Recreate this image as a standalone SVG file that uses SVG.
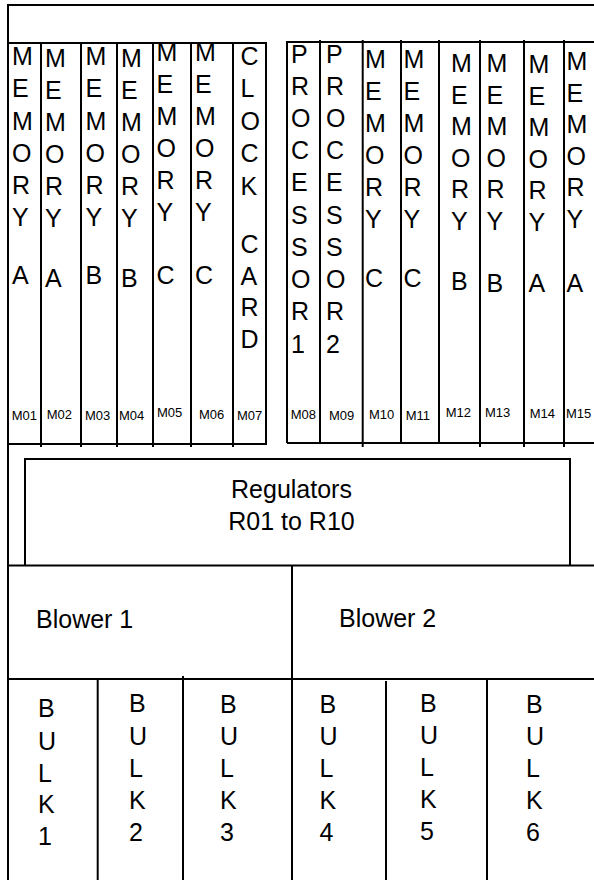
<svg xmlns="http://www.w3.org/2000/svg" width="594" height="880" viewBox="0 0 594 880">
<style>
  .ln { stroke: #000; stroke-width: 2; fill: none; }
  .big { font-family: "Liberation Sans", Arial, sans-serif; font-size: 25px; fill: #000; }
  .lbl { font-family: "Liberation Sans", Arial, sans-serif; font-size: 13px; fill: #000; }
  .mid { text-anchor: middle; }
</style>
<rect width="594" height="880" fill="#fff"/>
<g id="frame">
  <path class="ln" d="M8,880 V5 H594"/>
  <path class="ln" d="M8,43 H266 V444 H8"/>
  <path class="ln" d="M287,443 V42 H594 M287,443 H594"/>
  <path class="ln" d="M41,43 V447 M81,43 V447 M117,43 V447 M153,43 V447 M191,43 V447 M233,43 V447"/>
  <path class="ln" d="M320,40 V443 M362.7,40 V447 M401,40 V443 M439,40 V443 M480,40 V447 M524,40 V447 M564,40 V447"/>
  <path class="ln" d="M8,565.5 H594 M292,565.5 V679 M8,679 H594"/>
  <path class="ln" d="M97.7,679 V880 M183,676 V880 M292,679 V880 M386,681 V880 M487,679 V880"/>
</g>
<g id="connectors"></g>
<g id="M01"><text class="big"><tspan x="12" y="65">M</tspan><tspan x="12" y="97">E</tspan><tspan x="12" y="130">M</tspan><tspan x="12" y="162">O</tspan><tspan x="12" y="194">R</tspan><tspan x="12" y="226">Y</tspan><tspan x="12" y="284">A</tspan></text><text class="lbl" x="11.7" y="420">M01</text></g>
<g id="M02"><text class="big"><tspan x="45" y="67">M</tspan><tspan x="45" y="99">E</tspan><tspan x="45" y="131">M</tspan><tspan x="45" y="163">O</tspan><tspan x="45" y="195">R</tspan><tspan x="45" y="227">Y</tspan><tspan x="45" y="287">A</tspan></text><text class="lbl" x="46.7" y="419">M02</text></g>
<g id="M03"><text class="big"><tspan x="85.5" y="65">M</tspan><tspan x="85.5" y="97">E</tspan><tspan x="85.5" y="130">M</tspan><tspan x="85.5" y="162">O</tspan><tspan x="85.5" y="194">R</tspan><tspan x="85.5" y="226">Y</tspan><tspan x="85.5" y="284">B</tspan></text><text class="lbl" x="85" y="420">M03</text></g>
<g id="M04"><text class="big"><tspan x="121" y="67">M</tspan><tspan x="121" y="99">E</tspan><tspan x="121" y="131">M</tspan><tspan x="121" y="163">O</tspan><tspan x="121" y="195">R</tspan><tspan x="121" y="227">Y</tspan><tspan x="121" y="287">B</tspan></text><text class="lbl" x="119" y="420">M04</text></g>
<g id="M05"><text class="big"><tspan x="156.5" y="61">M</tspan><tspan x="156.5" y="93">E</tspan><tspan x="156.5" y="125">M</tspan><tspan x="156.5" y="157">O</tspan><tspan x="156.5" y="189">R</tspan><tspan x="156.5" y="221">Y</tspan><tspan x="156.5" y="284">C</tspan></text><text class="lbl" x="157" y="417">M05</text></g>
<g id="M06"><text class="big"><tspan x="195" y="61">M</tspan><tspan x="195" y="93">E</tspan><tspan x="195" y="125">M</tspan><tspan x="195" y="157">O</tspan><tspan x="195" y="189">R</tspan><tspan x="195" y="221">Y</tspan><tspan x="195" y="284">C</tspan></text><text class="lbl" x="199" y="419">M06</text></g>
<g id="M07"><text class="big"><tspan x="240.5" y="65">C</tspan><tspan x="240.5" y="97">L</tspan><tspan x="240.5" y="130">O</tspan><tspan x="240.5" y="162">C</tspan><tspan x="240.5" y="195">K</tspan><tspan x="240.5" y="253">C</tspan><tspan x="240.5" y="285">A</tspan><tspan x="240.5" y="316">R</tspan><tspan x="240.5" y="348">D</tspan></text><text class="lbl" x="237" y="419.5">M07</text></g>
<g id="M08"><text class="big"><tspan x="291" y="63">P</tspan><tspan x="291" y="95">R</tspan><tspan x="291" y="127">O</tspan><tspan x="291" y="159">C</tspan><tspan x="291" y="191">E</tspan><tspan x="291" y="224">S</tspan><tspan x="291" y="256">S</tspan><tspan x="291" y="288">O</tspan><tspan x="291" y="320">R</tspan><tspan x="291" y="353">1</tspan></text><text class="lbl" x="290.7" y="419">M08</text></g>
<g id="M09"><text class="big"><tspan x="326" y="63">P</tspan><tspan x="326" y="95">R</tspan><tspan x="326" y="127">O</tspan><tspan x="326" y="159">C</tspan><tspan x="326" y="191">E</tspan><tspan x="326" y="224">S</tspan><tspan x="326" y="256">S</tspan><tspan x="326" y="288">O</tspan><tspan x="326" y="320">R</tspan><tspan x="326" y="353">2</tspan></text><text class="lbl" x="329" y="420">M09</text></g>
<g id="M10"><text class="big"><tspan x="365" y="68">M</tspan><tspan x="365" y="100">E</tspan><tspan x="365" y="132">M</tspan><tspan x="365" y="164">O</tspan><tspan x="365" y="196">R</tspan><tspan x="365" y="228">Y</tspan><tspan x="365" y="287">C</tspan></text><text class="lbl" x="369" y="419">M10</text></g>
<g id="M11"><text class="big"><tspan x="403.5" y="68">M</tspan><tspan x="403.5" y="100">E</tspan><tspan x="403.5" y="132">M</tspan><tspan x="403.5" y="164">O</tspan><tspan x="403.5" y="196">R</tspan><tspan x="403.5" y="228">Y</tspan><tspan x="403.5" y="287">C</tspan></text><text class="lbl" x="405.7" y="420">M11</text></g>
<g id="M12"><text class="big"><tspan x="451" y="72">M</tspan><tspan x="451" y="103.5">E</tspan><tspan x="451" y="135">M</tspan><tspan x="451" y="166.5">O</tspan><tspan x="451" y="198">R</tspan><tspan x="451" y="229.5">Y</tspan><tspan x="451" y="290">B</tspan></text><text class="lbl" x="445.7" y="417">M12</text></g>
<g id="M13"><text class="big"><tspan x="486.5" y="72">M</tspan><tspan x="486.5" y="103.5">E</tspan><tspan x="486.5" y="135">M</tspan><tspan x="486.5" y="166.5">O</tspan><tspan x="486.5" y="198">R</tspan><tspan x="486.5" y="229.5">Y</tspan><tspan x="486.5" y="292">B</tspan></text><text class="lbl" x="485" y="417">M13</text></g>
<g id="M14"><text class="big"><tspan x="528.5" y="73">M</tspan><tspan x="528.5" y="104.5">E</tspan><tspan x="528.5" y="136">M</tspan><tspan x="528.5" y="167.5">O</tspan><tspan x="528.5" y="199">R</tspan><tspan x="528.5" y="230.5">Y</tspan><tspan x="528.5" y="292">A</tspan></text><text class="lbl" x="529.7" y="418">M14</text></g>
<g id="M15"><text class="big"><tspan x="566.5" y="70">M</tspan><tspan x="566.5" y="101.5">E</tspan><tspan x="566.5" y="133">M</tspan><tspan x="566.5" y="164.5">O</tspan><tspan x="566.5" y="196">R</tspan><tspan x="566.5" y="227.5">Y</tspan><tspan x="566.5" y="292">A</tspan></text><text class="lbl" x="566" y="418">M15</text></g>
<g id="regulators"><path class="ln" d="M25,565.5 V459 H570 V565.5"/><text class="big mid" x="291.5" y="498">Regulators</text><text class="big mid" x="291.5" y="530">R01 to R10</text></g>
<g id="blower1"><text class="big" x="36" y="628">Blower 1</text></g>
<g id="blower2"><text class="big" x="339" y="627">Blower 2</text></g>
<g id="bulk1"><text class="big"><tspan x="38" y="717">B</tspan><tspan x="38" y="750">U</tspan><tspan x="38" y="782">L</tspan><tspan x="38" y="813">K</tspan><tspan x="38" y="845">1</tspan></text></g>
<g id="bulk2"><text class="big"><tspan x="129" y="712">B</tspan><tspan x="129" y="745">U</tspan><tspan x="129" y="777">L</tspan><tspan x="129" y="809">K</tspan><tspan x="129" y="841">2</tspan></text></g>
<g id="bulk3"><text class="big"><tspan x="220" y="713">B</tspan><tspan x="220" y="745">U</tspan><tspan x="220" y="777">L</tspan><tspan x="220" y="809">K</tspan><tspan x="220" y="841">3</tspan></text></g>
<g id="bulk4"><text class="big"><tspan x="319.5" y="713">B</tspan><tspan x="319.5" y="745">U</tspan><tspan x="319.5" y="777">L</tspan><tspan x="319.5" y="809">K</tspan><tspan x="319.5" y="841">4</tspan></text></g>
<g id="bulk5"><text class="big"><tspan x="420" y="712">B</tspan><tspan x="420" y="744">U</tspan><tspan x="420" y="776">L</tspan><tspan x="420" y="808">K</tspan><tspan x="420" y="840">5</tspan></text></g>
<g id="bulk6"><text class="big"><tspan x="526" y="713">B</tspan><tspan x="526" y="745">U</tspan><tspan x="526" y="777">L</tspan><tspan x="526" y="809">K</tspan><tspan x="526" y="841">6</tspan></text></g>
</svg>
